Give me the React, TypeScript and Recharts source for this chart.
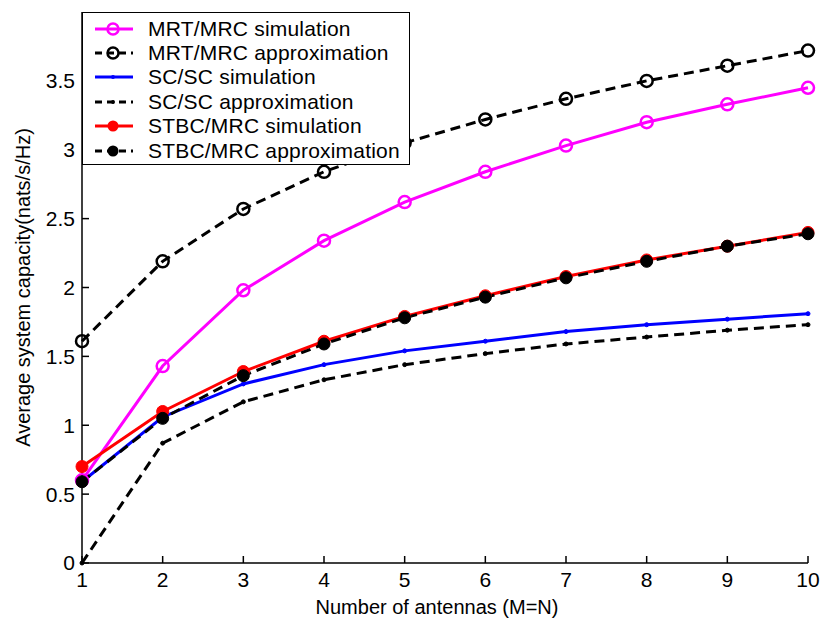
import React from 'react';
import { LineChart, Line, XAxis, YAxis } from 'recharts';

const antennas = [1, 2, 3, 4, 5, 6, 7, 8, 9, 10];
const mrtSim = [0.6, 1.43, 1.98, 2.34, 2.62, 2.84, 3.03, 3.2, 3.33, 3.45];
const mrtApprox = [1.61, 2.19, 2.57, 2.84, 3.05, 3.22, 3.37, 3.5, 3.61, 3.72];
const scSim = [0.59, 1.06, 1.3, 1.44, 1.54, 1.61, 1.68, 1.73, 1.77, 1.81];
const scApprox = [0, 0.87, 1.17, 1.33, 1.44, 1.52, 1.59, 1.64, 1.69, 1.73];
const stbcSim = [0.7, 1.1, 1.39, 1.61, 1.79, 1.94, 2.08, 2.2, 2.3, 2.4];
const stbcApprox = [0.59, 1.05, 1.36, 1.59, 1.78, 1.93, 2.07, 2.19, 2.3, 2.39];
const xTicks = [1, 2, 3, 4, 5, 6, 7, 8, 9, 10];
const yTicks = [0, 0.5, 1, 1.5, 2, 2.5, 3, 3.5];

const data = antennas.map((a, i) => ({
  x: a,
  mrtSim: mrtSim[i],
  mrtApprox: mrtApprox[i],
  scSim: scSim[i],
  scApprox: scApprox[i],
  stbcSim: stbcSim[i],
  stbcApprox: stbcApprox[i],
}));

const FONT = '"Liberation Sans", Arial, sans-serif';

const openDot = (color: string) => (p: any) => (
  <circle key={p.index} cx={p.cx} cy={p.cy} r={6} fill="none" stroke={color} strokeWidth={2.5} />
);
const filledDot = (color: string) => (p: any) => (
  <circle key={p.index} cx={p.cx} cy={p.cy} r={6} fill={color} stroke={color} strokeWidth={1} />
);
const smallDot = (color: string) => (p: any) => (
  <circle key={p.index} cx={p.cx} cy={p.cy} r={2} fill={color} stroke={color} />
);

const legendItems = [
  { name: 'MRT/MRC simulation', color: '#ff00ff', dash: '', marker: 'open' },
  { name: 'MRT/MRC approximation', color: '#000000', dash: '7 5', marker: 'open' },
  { name: 'SC/SC simulation', color: '#0000ff', dash: '', marker: 'small' },
  { name: 'SC/SC approximation', color: '#000000', dash: '7 5', marker: 'small' },
  { name: 'STBC/MRC simulation', color: '#ff0000', dash: '', marker: 'filled' },
  { name: 'STBC/MRC approximation', color: '#000000', dash: '7 5', marker: 'filled' },
];

const LegendBox = () => (
  <div
    style={{
      position: 'absolute',
      left: 82,
      top: 12,
      background: '#fff',
      border: '1.5px solid #000',
      width: 328,
      height: 153,
      padding: '3.5px 0 0 0',
      boxSizing: 'border-box',
      fontFamily: FONT,
      fontSize: 21,
      letterSpacing: 0.2,
      color: '#000',
    }}
  >
    {legendItems.map((it) => (
      <div key={it.name} style={{ display: 'flex', alignItems: 'center', height: 24.4, whiteSpace: 'nowrap' }}>
        <svg width={42} height={16} style={{ marginLeft: 10, flex: 'none' }}>
          <line x1={2} y1={8} x2={40} y2={8} stroke={it.color} strokeWidth={3} strokeDasharray={it.dash} />
          {it.marker === 'open' && <circle cx={20} cy={8} r={5.5} fill="none" stroke={it.color} strokeWidth={2.5} />}
          {it.marker === 'filled' && <circle cx={20} cy={8} r={5.5} fill={it.color} />}
          {it.marker === 'small' && <circle cx={20} cy={8} r={2} fill={it.color} />}
        </svg>
        <span style={{ marginLeft: 13 }}>{it.name}</span>
      </div>
    ))}
  </div>
);

export default function App() {
  return (
    <div style={{ position: 'absolute', left: 0, top: 0, width: 820, height: 621, background: '#fff' }}>
      <LineChart width={820} height={621} data={data} margin={{ top: 12, right: 12, bottom: 0, left: 0 }}>
        <XAxis
          dataKey="x"
          type="number"
          domain={[1, 10]}
          ticks={xTicks}
          height={58}
          stroke="#000"
          axisLine={{ stroke: '#000', strokeWidth: 1.5 }}
          tickLine={{ stroke: '#000', strokeWidth: 1.5 }}
          tickSize={-7}
          tickMargin={16}
          tick={{ fill: '#000', fontSize: 21, fontFamily: FONT }}
          label={{ value: 'Number of antennas (M=N)', position: 'insideBottom', offset: 7, dx: -8, fill: '#000', fontSize: 20, fontFamily: FONT }}
        />
        <XAxis
          xAxisId="top"
          dataKey="x"
          type="number"
          domain={[1, 10]}
          ticks={xTicks}
          orientation="top"
          height={0}
          axisLine={{ stroke: '#000', strokeWidth: 1.5 }}
          tickLine={{ stroke: '#000', strokeWidth: 1.5 }}
          tickSize={-7}
          tick={false}
        />
        <YAxis
          type="number"
          domain={[0, 4]}
          ticks={yTicks}
          width={82}
          axisLine={{ stroke: '#000', strokeWidth: 1.5 }}
          tickLine={{ stroke: '#000', strokeWidth: 1.5 }}
          tickSize={-7}
          tickMargin={14}
          tick={{ fill: '#000', fontSize: 21, fontFamily: FONT }}
          label={{ value: 'Average system capacity(nats/s/Hz)', angle: -90, position: 'insideLeft', offset: 23, style: { textAnchor: 'middle' }, fill: '#000', fontSize: 20, fontFamily: FONT }}
        />
        <YAxis
          yAxisId="right"
          type="number"
          domain={[0, 4]}
          ticks={yTicks}
          orientation="right"
          width={0}
          axisLine={{ stroke: '#000', strokeWidth: 1.5 }}
          tickLine={{ stroke: '#000', strokeWidth: 1.5 }}
          tickSize={-7}
          tick={false}
        />
        <Line dataKey="mrtSim" stroke="#ff00ff" strokeWidth={3} dot={openDot('#ff00ff')} isAnimationActive={false} />
        <Line dataKey="mrtApprox" stroke="#000" strokeWidth={3} strokeDasharray="10 6" dot={openDot('#000')} isAnimationActive={false} />
        <Line dataKey="scSim" stroke="#0000ff" strokeWidth={3} dot={smallDot('#0000ff')} isAnimationActive={false} />
        <Line dataKey="scApprox" stroke="#000" strokeWidth={3} strokeDasharray="10 6" dot={smallDot('#000')} isAnimationActive={false} />
        <Line dataKey="stbcSim" stroke="#ff0000" strokeWidth={3} dot={filledDot('#ff0000')} isAnimationActive={false} />
        <Line dataKey="stbcApprox" stroke="#000" strokeWidth={3} strokeDasharray="10 6" dot={filledDot('#000')} isAnimationActive={false} />
      </LineChart>
      <LegendBox />
    </div>
  );
}
